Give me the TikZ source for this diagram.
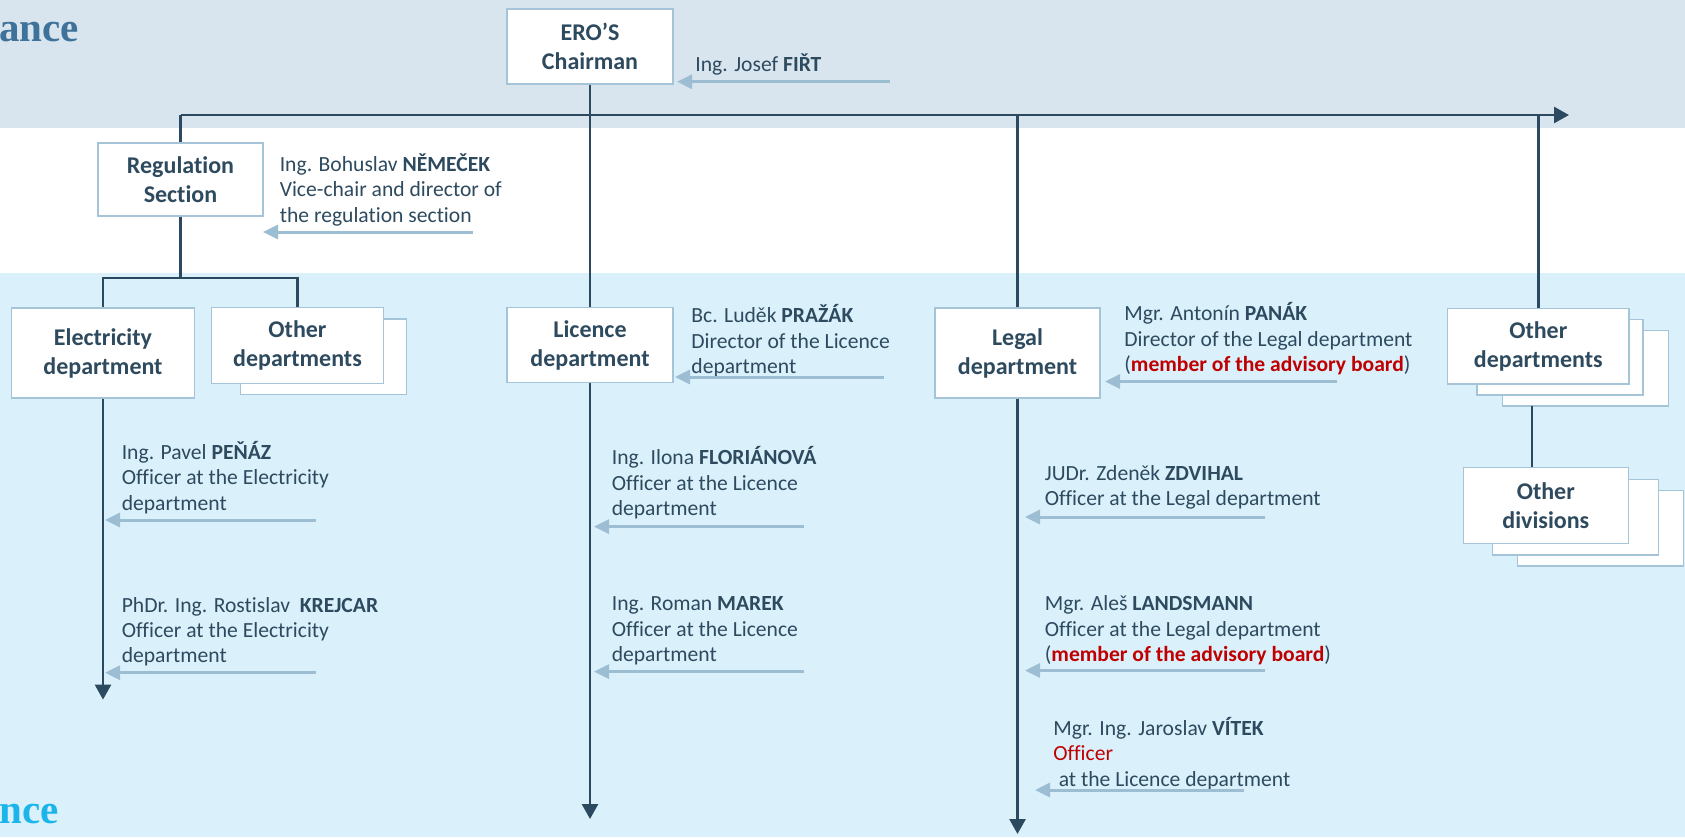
\documentclass[tikz,border=0pt]{standalone}
\usepackage{fontspec}
\setmainfont{Carlito}[Ligatures=NoCommon]
\newfontfamily\headserif{Liberation Serif}
\usetikzlibrary{arrows.meta}

\definecolor{bandgrey}{RGB}{217,229,238}
\definecolor{bandblue}{RGB}{218,241,252}
\definecolor{boxline}{RGB}{166,196,216}
\definecolor{txtslate}{RGB}{46,74,95}
\definecolor{treeline}{RGB}{44,74,95}
\definecolor{pointerblue}{RGB}{157,189,211}
\definecolor{boardred}{RGB}{192,0,0}
\definecolor{headblue}{RGB}{62,114,154}
\definecolor{headcyan}{RGB}{28,181,235}

\tikzset{
  unit/.style={draw=boxline, fill=white, line width=0.6pt, align=center, inner sep=2pt,
    text=txtslate, font=\fontsize{12}{14.5}\selectfont\bfseries},
  sheet/.style={draw=boxline, fill=white, line width=0.6pt, inner sep=0pt,
    minimum width=83pt, minimum height=37.75pt},
  tree/.style={draw=treeline, line width=1.35pt},
  treetip/.style={tree, -{Triangle[width=8pt,length=7.5pt]}},
  hint/.style={draw=pointerblue, line width=1.5pt, -{Triangle[width=7pt,length=7.5pt]}},
  person/.style={anchor=base west, inner sep=0pt, align=left, text=txtslate,
    font=\fontsize{10.8}{12.65}\selectfont},
}

\begin{document}
\begin{tikzpicture}[x=0.5pt,y=0.5pt,yscale=-1,xscale=1]
\useasboundingbox (0,0) rectangle (1685,837);

%Shape: Bands
\fill[bandgrey] (0,0) rectangle (1685,128);
\fill[white] (0,128) rectangle (1685,273);
\fill[bandblue] (0,273) rectangle (1685,837);

% Text Node
\node[anchor=base west, inner sep=0pt, text=headblue, font=\headserif\bfseries\fontsize{20.5}{24}\selectfont] (govtop) at (-1,41) {ance};
% Text Node
\node[anchor=base west, inner sep=0pt, text=headcyan, font=\headserif\bfseries\fontsize{20.5}{24}\selectfont] (govbot) at (-1,823) {nce};

%Shape: Sheets behind the stacked boxes
\node[sheet] (othLback) at (323.7,356.7) {};
\node[sheet] (othRback2) at (1585.5,368.2) {};
\node[sheet] (othRback1) at (1560,357.2) {};
\node[sheet] (othDback2) at (1600.5,528.2) {};
\node[sheet] (othDback1) at (1575.3,517.2) {};

%Shape: Boxes
\node[unit, minimum width=83pt, minimum height=37.5pt] (chair) at (590,46.5) {ERO’S\\Chairman};
\node[unit, minimum width=82.5pt, minimum height=36.5pt] (reg) at (180.5,179.5) {Regulation\\Section};
\node[unit, minimum width=91.5pt, minimum height=45pt] (elec) at (103,353) {Electricity\\department};
\node[unit, minimum width=85.8pt, minimum height=37.8pt] (othL) at (297.5,345.5) {Other\\departments};
\node[unit, minimum width=83pt, minimum height=37.5pt] (lic) at (590,345) {Licence\\department};
\node[unit, minimum width=82.5pt, minimum height=45pt] (legal) at (1017.5,353) {Legal\\department};
\node[unit, minimum width=90.6pt, minimum height=37.8pt] (othR) at (1538.3,346.2) {Other\\departments};
\node[unit, minimum width=82.5pt, minimum height=37.8pt] (othD) at (1545.8,505.5) {Other\\divisions};

%Straight Lines: tree
\coordinate (busL) at (180.5,115);
\coordinate (busR) at (1569,115);
\coordinate (split) at (180.5,278);
\coordinate (divlink) at (1532,406);
\coordinate (elecEnd) at (103,699.6);
\coordinate (licEnd) at (590,819);
\coordinate (legalEnd) at (1017.5,834);
\draw[treetip] (busL) -- (busR);
\draw[tree] (busL) -- (reg);
\draw[tree] (chair) -- (lic);
\draw[tree] (legal |- busL) -- (legal);
\draw[tree] (othR |- busL) -- (othR);
\draw[tree] (reg) -- (split);
\draw[tree] (elec.north) |- (split) -| (othL.north);
\draw[tree] (divlink) -- (divlink |- othD.north);
\draw[treetip] (elec) -- (elecEnd);
\draw[treetip] (lic) -- (licEnd);
\draw[treetip] (legal) -- (legalEnd);

% Text Node (anchored at the baseline of the last line)
\node[person] (firt) at (695,71.5) {Ing. Josef \textbf{FIŘT}};
\node[person] (nemecek) at (279.4,222) {Ing. Bohuslav \textbf{NĚMEČEK}\\Vice-chair and director of\\the regulation section};
\node[person] (prazak) at (691,373.5) {Bc. Luděk \textbf{PRAŽÁK}\\Director of the Licence\\department};
\node[person] (panak) at (1124,371.4) {Mgr. Antonín \textbf{PANÁK}\\Director of the Legal department\\(\textcolor{boardred}{\textbf{member of the advisory board}})};
\node[person] (penaz) at (121.4,510) {Ing. Pavel \textbf{PEŇÁZ}\\Officer at the Electricity\\department};
\node[person] (krejcar) at (121.4,662.6) {PhDr. Ing. Rostislav\ \ \textbf{KREJCAR}\\Officer at the Electricity\\department};
\node[person] (florianova) at (611.4,515.4) {Ing. Ilona \textbf{FLORIÁNOVÁ}\\Officer at the Licence\\department};
\node[person] (marek) at (611.4,661.5) {Ing. Roman \textbf{MAREK}\\Officer at the Licence\\department};
\node[person] (zdvihal) at (1044.5,505.7) {JUDr. Zdeněk \textbf{ZDVIHAL}\\Officer at the Legal department};
\node[person] (landsmann) at (1044.5,661.5) {Mgr. Aleš \textbf{LANDSMANN}\\Officer at the Legal department\\(\textcolor{boardred}{\textbf{member of the advisory board}})};
\node[person] (vitek) at (1053,786) {Mgr. Ing. Jaroslav \textbf{VÍTEK}\\\textcolor{boardred}{Officer}\\\hspace*{0.25em}at the Licence department};

%Straight Lines: pointers
\coordinate (firtS) at (890,81.7);      \coordinate (firtE) at (677,81.7);
\coordinate (nemecekS) at (473,232);    \coordinate (nemecekE) at (263,232);
\coordinate (prazakS) at (884,377);     \coordinate (prazakE) at (675,377);
\coordinate (panakS) at (1337,381.5);   \coordinate (panakE) at (1105,381.5);
\coordinate (penazS) at (316,520);      \coordinate (penazE) at (105,520);
\coordinate (krejcarS) at (316,672.7);  \coordinate (krejcarE) at (105,672.7);
\coordinate (florS) at (804,526.6);     \coordinate (florE) at (594,526.6);
\coordinate (marekS) at (804,671.6);    \coordinate (marekE) at (594,671.6);
\coordinate (zdvihalS) at (1265,517);   \coordinate (zdvihalE) at (1025,517);
\coordinate (landsS) at (1265,670.5);   \coordinate (landsE) at (1025,670.5);
\coordinate (vitekS) at (1244,790);     \coordinate (vitekE) at (1035,790);
\draw[hint] (firtS) -- (firtE);
\draw[hint] (nemecekS) -- (nemecekE);
\draw[hint] (prazakS) -- (prazakE);
\draw[hint] (panakS) -- (panakE);
\draw[hint] (penazS) -- (penazE);
\draw[hint] (krejcarS) -- (krejcarE);
\draw[hint] (florS) -- (florE);
\draw[hint] (marekS) -- (marekE);
\draw[hint] (zdvihalS) -- (zdvihalE);
\draw[hint] (landsS) -- (landsE);
\draw[hint] (vitekS) -- (vitekE);

\end{tikzpicture}
\end{document}
